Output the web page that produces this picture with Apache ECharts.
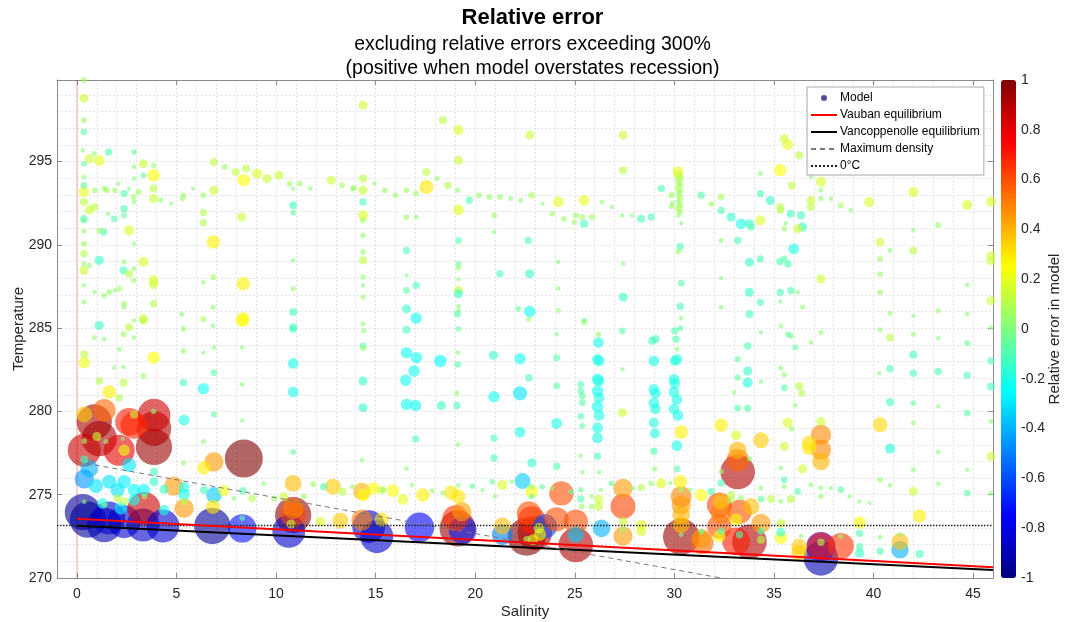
<!DOCTYPE html>
<html>
<head>
<meta charset="utf-8">
<title>Relative error</title>
<script src="https://cdn.jsdelivr.net/npm/echarts@6/dist/echarts.min.js"></script>
<style>
  html, body { margin: 0; padding: 0; background: #ffffff; }
  #chart { width: 1065px; height: 622px; }
</style>
</head>
<body>
<div id="chart"></div>
<script>
// Model samples: salinity, temperature (K) and relative error of the model
const salinity = [
  // low salinity, warm water
  0.35,0.35,0.35,0.35,0.3,0.35,0.35,0.35,0.35,0.35, 0.35,0.35,0.35,0.35,0.35,0.35,0.35,0.35,0.35,0.62,
  0.87,1.12,0.9,0.87,0.62,0.62,1.59,1.37,1.5,1.9, 2.07,2.37,2.62,2.84,2.87,3.1,2.87,2.87,2.87,3.34,
  3.34,3.85,3.85,3.85,3.85,4.21,4.74,5.3,5.35,5.83, 6.35,6.88,6.88,7.43,7.97,8.38,8.5,9.05,9.55,10.14,
  10.69,10.86,11.19,11.72,12.78,13.31,13.86,10.86,10.86,10.86, 10.86,10.86,10.86,6.35,6.35,6.85,8.27,8.35,8.35,1.87,
  2.37,2.37,1.57,1.34,1.12,2.62,2.87,3.34,2.37,2.34, 2.62,2.84,2.87,3.85,3.85,1.12,0.9,1.37,1.62,1.9,
  2.12,2.37,2.37,3.85,3.34,3.34,2.87,2.62,1.12,5.35,
  // low salinity, intermediate temperature
  6.35,6.85,6.35,6.83,6.83,5.26,0.87,1.37,2.34,2.87, 0.37,0.37,2.12,1.87,2.34,3.85,1.12,1.62,2.12,2.34,
  3.34,5.35,5.35,6.35,6.35,6.88,6.88,6.88,8.3,8.3, 8.3,8.3,6.35,5.35,10.86,10.86,10.86,10.86,2.87,3.85,
  0.37,1.45,2.3,1.0,0.37,
  // low salinity, near freezing
  0.37,1.37,0.87,1.12,0.37,2.12,2.62,2.87,3.87,3.87, 3.87,8.38,2.37,5.38,6.88,6.38,2.62,0.62,0.37,0.95,
  1.62,2.04,2.37,2.87,3.37,3.87,3.87,4.37,4.87,5.38, 5.38,5.38,6.38,6.88,7.38,6.83,8.33,8.8,7.88,9.38,
  9.89,10.39,10.86,11.39,11.86,12.39,12.86,13.34,13.84,14.39, 14.31,14.89,15.3,14.31,1.29,2.2,2.87,4.37,0.37,1.37,
  2.04,2.37,5.38,3.4,0.3,0.55,1.37,1.6,2.37,3.32, 3.37,4.32,6.8,8.3,8.3,10.64,10.86,10.86,10.86,10.75,
  14.65,15.06,14.31,13.23,12.22,15.3,
  // salinity 14-20
  14.37,14.37,14.37,14.37,14.37,14.37,14.37,14.37,14.37,14.37, 14.37,14.37,14.37,13.9,14.94,15.46,15.99,16.55,17.03,17.55,
  17.55,18.08,18.63,19.11,19.16,19.16,18.38,19.16,19.16,19.16, 19.16,19.16,19.16,19.16,19.16,19.16,19.11,19.16,16.55,17.03,
  16.55,16.55,16.55,17.03,16.55,17.03,16.55,14.4,14.37,14.37, 14.37,14.37,16.55,17.05,16.93,16.51,16.55,17.01,17.01,16.55,
  18.25,18.3,19.13,19.13,19.08,19.08,19.13,
  // salinity 20-31, warm water
  19.7,20.19,20.71,21.24,21.78,22.29,22.83,23.38,24.17,25.47, 26.37,26.87,27.38,27.88,28.34,28.84,22.74,27.43,27.43,23.88,
  24.45,24.97,25.05,25.37,25.47,25.87,20.95,20.95,21.24,22.66, 22.74,22.16,22.74,24.17,24.17,24.17,25.47,27.43,27.43,29.35,
  31.35,30.18,30.18,30.3,30.2,30.3,30.2,30.3,30.2,30.3, 30.2,30.3,30.2,30.3,30.2,29.85,29.9,29.85,30.35,30.3,
  30.2,30.35,30.3,30.35,30.3,
  // salinity 20-31, intermediate temperature
  20.92,20.94,20.94,20.94,22.25,22.25,22.25,22.7,22.7,22.84, 24.09,24.09,24.09,24.09,24.09,25.47,25.3,25.3,25.38,25.38,
  25.3,25.38,25.3,25.38,26.19,26.19,26.14,26.22,26.14,26.22, 26.14,26.22,26.14,26.22,26.14,26.14,26.14,26.22,27.39,27.39,
  27.39,28.89,29.05,28.97,28.97,29.05,28.97,29.05,28.97,29.02, 28.97,29.02,30.02,30.08,30.13,30.13,30.02,29.98,30.02,29.98,
  30.13,29.98,30.18,30.35,30.13,30.13,
  // salinity 15-32, near freezing
  15.4,15.87,16.37,16.82,17.37,17.85,18.37,18.79,19.16,19.16, 19.86,20.37,20.86,21.0,21.36,21.83,22.38,22.83,22.83,22.83,
  23.36,23.86,24.33,24.83,25.3,25.3,25.35,25.83,26.2,26.2, 25.85,26.3,26.84,27.42,27.42,27.42,27.42,27.42,27.9,28.34,
  28.34,28.34,28.84,29.34,29.8,30.3,30.34,30.34,30.34,30.34, 30.34,30.34,30.34,30.8,31.35,31.35,31.35,31.4,17.2,19.12,
  19.0,19.33,19.37,21.36,21.36,22.58,22.83,22.7,22.99,23.2, 23.25,22.6,22.9,23.5,24.08,25.05,25.05,25.05,26.34,
  // high salinity, cold water
  32.35,33.1,33.18,33.18,33.18,34.35,33.77,32.35,32.35,31.85, 32.33,32.26,32.35,32.26,32.35,32.26,32.85,32.85,33.35,33.27,
  33.85,33.1,33.27,33.77,33.1,34.35,34.35,34.35,34.35,34.35, 34.85,35.35,35.85,35.35,35.35,35.35,36.36,36.27,36.27,37.36,
  37.36,37.36,37.36,38.36,38.36,39.3,39.3,39.3,39.3,40.33, 40.33,41.33,41.33,41.33,42.31,42.31,35.69,35.9,35.52,36.44,
  36.77,36.77,37.36,37.36,37.36,37.36,35.35,35.52,35.52,36.2, 36.86,37.36,37.36,37.86,38.36,38.8,39.3,39.8,40.33,40.33,
  40.33,40.3,40.83,40.83,40.83,40.83,40.83,42.0,42.0,42.0, 42.0,42.0,42.0,42.0,43.25,43.25,43.25,43.25,43.25,44.7,
  44.7,44.7,44.7,44.7,44.7,44.7,44.7,45.9,45.9,45.9, 45.9,45.9,45.9,45.9,45.9,45.9,45.9,
  // high salinity, intermediate temperature
  35.35,35.7,35.85,34.35,33.68,36.07,36.86,37.36,33.18,33.68, 33.18,33.68,33.0,35.35,35.52,34.35,36.27,36.4,35.52,36.07,
  33.18,33.68,
  // high salinity, warm water
  35.52,35.69,36.27,35.32,35.9,36.86,34.32,37.36,37.36,37.36, 37.86,38.36,38.86,36.86,36.86,31.85,32.35,32.35,32.85,33.35,
  33.77,33.85,34.32,34.32,34.82,35.32,35.32,35.85,36.36,36.44, 36.2,35.6,35.52,39.78,42.0,43.25,42.0,40.33,40.83,42.0,
  40.33,40.33,40.33,40.83,43.25,42.0,32.35,33.18,33.77,34.32, 35.3,35.52,35.7,35.99,33.77,34.32,35.32,35.85,36.2,32.35,
  33.77,35.32,36.44,37.36,32.35
];

const temperature = [
  299.9,298.8,297.49,296.79,295.68,294.87,294.08,293.58,293.18,292.58, 291.57,291.47,290.83,290.07,289.47,288.87,288.47,287.57,286.57,295.17,
  295.47,295.07,293.28,292.28,292.08,288.77,295.57,293.38,293.28,293.28, 293.68,293.08,293.38,292.88,292.58,293.18,293.98,294.68,295.57,294.87,
  294.18,294.77,294.18,293.38,292.78,292.68,292.48,292.78,292.98,293.38, 292.98,293.28,294.97,294.68,294.38,293.88,294.58,294.28,293.98,294.18,
  293.68,293.38,293.68,293.38,293.88,293.58,293.38,292.38,291.94,289.07, 287.37,285.97,285.06,291.94,291.33,290.17,291.67,287.67,285.56,291.57,
  292.17,291.77,291.87,290.77,290.87,290.87,290.07,288.97,288.97,288.47, 288.27,287.87,288.57,287.87,287.61,289.07,287.17,286.97,287.17,287.27,
  287.37,286.47,286.27,286.47,285.56,285.46,285.46,285.06,285.16,284.96,

  287.75,288.05,285.54,286.25,285.15,285.84,284.44,284.34,284.64,284.44, 283.43,282.93,283.74,282.63,282.67,283.23,281.83,281.17,280.82,281.73,
  282.13,283.63,281.73,283.53,281.37,283.84,282.33,279.82,285.44,283.84, 281.63,279.45,278.2,276.9,284.94,282.89,281.17,277.57,279.82,280.0,
  278.22,278.2,278.35,278.5,277.11,

  279.82,280.07,279.37,278.37,277.67,277.67,279.37,279.17,279.77,278.97, 277.87,277.17,277.67,279.47,276.97,276.6,276.78,276.57,275.95,275.52,
  275.78,275.28,275.78,275.28,275.28,275.78,276.37,275.32,275.52,275.44, 275.02,274.18,275.28,274.98,275.24,274.27,275.24,274.78,274.78,275.68,
  274.78,274.88,275.68,274.88,275.64,275.48,275.48,275.18,275.48,274.98, 275.2,275.38,275.28,277.07,274.48,274.18,274.68,274.08,274.58,274.4,
  274.78,274.6,274.6,274.9,273.95,273.5,273.18,273.6,273.38,273.18, 274.18,273.12,273.12,272.98,273.6,272.8,273.78,274.18,273.8,273.24,
  273.08,272.48,273.48,273.44,273.38,273.5,

  298.39,293.98,293.28,292.58,291.77,291.47,290.57,289.57,289.07,288.07, 287.57,286.87,285.26,293.42,293.68,293.28,292.98,293.28,293.08,293.48,
  294.38,293.98,293.58,293.28,296.89,295.08,297.49,292.1,290.27,288.87, 288.63,287.93,287.27,287.07,286.32,286.06,285.86,284.96,291.67,291.67,
  289.67,288.17,287.27,287.57,286.16,285.6,284.9,284.84,283.94,283.78, 281.83,280.22,283.53,283.23,282.43,281.87,280.42,280.36,278.35,276.57,
  283.03,280.36,283.53,282.83,281.09,280.36,278.01,

  292.68,292.98,292.88,292.88,292.78,292.68,292.98,292.48,292.58,292.68, 292.58,292.28,291.77,291.77,291.57,291.67,296.59,296.59,294.48,291.87,
  291.57,291.37,291.77,291.67,291.27,291.67,291.77,290.77,288.27,290.27, 288.27,286.16,286.0,288.97,287.37,286.06,285.46,288.87,286.87,293.38,
  292.98,294.4,294.2,294.0,293.8,293.6,293.4,293.2,293.0,292.8, 292.6,292.4,292.2,292.0,291.8,293.0,292.5,292.3,291.3,289.9,
  289.6,287.7,286.3,285.6,285.0,

  283.37,280.88,278.41,277.21,283.17,281.09,278.76,285.54,282.03,276.91, 284.64,283.23,281.53,279.28,276.71,285.34,281.63,281.23,280.92,280.52,
  279.72,279.12,277.35,276.35,284.64,284.14,283.13,283.03,281.93,281.83, 281.23,280.82,280.28,279.76,279.02,278.41,277.31,276.35,284.84,282.53,
  279.92,284.24,284.34,283.03,281.33,281.09,280.52,280.16,279.32,278.68, 277.61,276.55,284.84,284.34,283.74,283.13,283.03,281.93,281.69,281.17,
  280.72,280.16,279.76,278.76,277.95,276.55,

  275.28,275.24,274.72,275.58,274.98,275.24,275.1,275.12,274.88,275.58, 275.52,275.28,275.78,274.9,275.58,275.78,275.82,275.18,275.5,274.9,
  275.48,275.4,275.08,275.18,275.3,274.75,274.3,274.9,274.72,274.3, 274.3,275.3,275.68,275.38,274.3,273.38,272.52,272.9,275.4,275.44,
  273.18,272.8,275.68,275.68,275.7,275.78,274.88,274.38,273.8,273.2, 272.48,272.6,275.3,275.3,274.98,272.78,272.38,272.1,273.04,272.98,
  273.58,273.98,272.88,273.12,272.6,272.48,273.48,273.88,272.7,273.0, 272.6,272.3,272.3,273.1,273.52,273.38,271.98,272.6,272.98,

  279.17,278.57,277.67,277.07,276.37,278.27,277.15,276.4,275.7,275.2, 274.6,274.38,273.9,273.08,272.8,272.5,275.0,274.7,274.8,273.98,
  274.28,273.5,272.6,272.18,272.2,273.28,272.8,272.3,275.4,274.74, 274.74,274.6,274.74,273.28,272.75,272.4,272.52,271.88,271.5,271.18,
  271.9,271.88,272.15,271.92,272.5,272.68,271.88,271.5,273.32,272.44, 271.6,272.18,271.7,272.62,273.72,271.44,279.32,278.96,277.9,276.55,
  278.1,277.8,278.6,279.4,277.7,277.0,276.6,275.9,275.5,275.2, 275.6,275.4,274.9,275.4,275.3,274.9,274.6,274.5,279.2,275.9,
  284.9,282.3,284.44,282.57,280.56,277.77,275.56,284.64,283.4,282.3, 280.5,279.3,276.5,275.2,284.4,282.4,280.3,277.57,275.66,284.1,
  282.17,279.9,276.5,275.1,292.4,287.6,285.84,292.6,289.35,289.05, 286.65,285.04,283.03,281.5,279.4,277.3,275.1,

  285.15,284.64,284.54,284.74,283.93,283.84,284.14,284.74,283.13,282.43, 282.03,281.73,281.13,282.6,282.2,281.8,281.53,281.1,281.43,280.36,
  280.2,280.2,

  296.39,296.02,295.38,294.48,293.57,294.08,294.28,293.78,293.28,292.78, 292.78,292.37,292.07,292.67,292.27,292.47,292.87,292.07,291.67,291.27,
  291.27,291.07,291.47,293.07,292.67,292.27,292.07,291.87,291.77,291.07, 290.97,291.3,290.97,292.57,293.17,291.2,290.9,290.16,289.66,289.66,
  289.16,288.25,287.15,285.9,286.04,285.74,290.26,290.26,288.96,289.16, 289.0,289.16,288.86,289.76,287.15,286.55,287.15,287.25,287.15,286.25,
  285.84,286.6,286.25,287.95,288.0
];

const relativeError = [
  0.05,0.15,0.05,-0.08,0.02,-0.05,0.03,-0.08,0.2,0.12, -0.1,-0.05,0.03,0.06,0.1,0.03,0.15,0.02,0.03,0.15,
  0.03,0.2,0.05,0.12,0.15,0.03,-0.1,0.05,0.06,0.05, 0.01,-0.1,0.01,0.05,0.02,0.06,0.02,0.02,-0.05,0.15,
  -0.05,0.04,0.25,0.12,0.15,0.03,0.01,0.05,0.05,0.01, 0.06,0.15,0.12,0.05,0.12,0.25,0.12,0.18,0.15,0.15,
  0.06,0.01,0.05,0.02,0.15,0.06,0.04,-0.12,-0.05,0.01, 0.03,-0.12,-0.12,0.1,0.1,0.28,0.15,0.28,0.27,-0.08,
  -0.1,-0.05,0.01,-0.1,0.05,0.18,0.01,0.18,0.03,-0.12, 0.12,0.04,0.02,0.18,0.15,-0.15,0.02,0.04,0.05,0.01,
  0.06,0.05,0.03,0.1,0.15,0.12,0.01,0.12,-0.15,0.05,

  0.02,0.06,0.06,0.03,0.01,0.03,0.03,0.02,0.06,0.02, 0.12,0.22,0.03,0.01,0.01,0.25,0.1,0.28,0.1,0.12,
  0.05,0.04,-0.1,0.01,-0.22,0.02,-0.08,-0.06,0.25,0.02, 0.02,0.01,0.03,0.03,-0.1,-0.2,-0.2,-0.05,0.12,0.04,
  0.05,0.03,0.01,0.15,-0.12,

  0.35,0.55,0.92,0.92,0.85,0.8,0.7,0.68,0.85,0.9, 0.95,1.0,0.22,-0.2,0.45,0.28,-0.3,-0.4,-0.45,-0.3,
  -0.3,-0.3,-0.28,-0.25,-0.25,-0.15,-0.12,-0.15,0.45,-0.2, -0.22,0.45,-0.12,-0.35,0.22,0.3,-0.1,0.1,0.02,0.02,
  0.05,0.15,0.38,0.05,0.05,-0.1,0.35,0.12,0.03,0.25, 0.4,0.25,0.12,0.02,-0.2,-0.25,-0.22,-0.2,0.02,0.03,
  0.12,0.12,0.1,0.05,-0.95,-0.95,-0.9,-0.85,-0.85,-0.85, 0.85,-0.85,-0.95,-0.72,-0.05,-0.85,0.95,0.5,0.62,0.15,
  -0.85,-0.85,0.5,0.35,0.18,0.3,

  0.15,0.12,0.15,-0.1,0.18,0.06,0.04,0.05,0.12,0.04, 0.01,0.03,0.03,0.05,0.01,0.05,0.05,0.05,0.06,0.3,
  0.12,0.04,0.1,0.03,0.18,0.15,0.12,0.2,-0.08,-0.05, 0.05,0.01,0.15,-0.15,0.02,0.02,-0.1,-0.05,0.05,0.03,
  -0.1,0.01,-0.08,-0.1,-0.15,-0.22,-0.12,0.03,-0.08,0.05, -0.15,-0.15,-0.22,-0.22,-0.22,-0.22,-0.22,-0.22,-0.1,0.02,
  -0.25,-0.15,0.02,-0.08,0.04,-0.1,0.02,

  -0.1,0.05,0.05,0.05,0.03,0.03,0.08,0.01,0.2,0.2, 0.02,0.01,0.01,0.01,-0.12,-0.1,0.15,0.15,0.12,0.05,
  0.05,0.05,0.06,0.06,-0.12,0.06,0.05,0.01,-0.1,-0.1, -0.15,-0.05,-0.22,0.01,0.02,0.03,-0.05,0.01,-0.15,-0.1,
  -0.1,0.2,0.15,0.1,0.08,0.05,0.1,0.06,0.05,0.08, 0.04,0.06,0.1,0.05,0.03,0.06,0.03,0.04,0.01,-0.1,
  0.05,-0.08,-0.1,0.02,-0.06,

  -0.15,-0.22,-0.1,-0.1,-0.22,-0.3,-0.2,0.04,-0.1,-0.15, 0.01,-0.08,-0.08,-0.2,-0.1,0.05,-0.08,-0.08,-0.08,-0.08,
  -0.08,-0.06,0.01,0.01,0.04,-0.2,-0.2,-0.2,-0.22,-0.2, -0.22,-0.2,-0.22,-0.2,-0.2,-0.2,-0.1,0.01,-0.08,0.01,
  0.15,-0.12,-0.12,-0.2,-0.2,-0.2,-0.2,-0.2,-0.18,-0.18, -0.1,0.03,-0.1,-0.1,0.02,-0.2,-0.18,-0.2,-0.2,-0.2,
  -0.2,-0.2,-0.2,0.28,-0.2,-0.08,

  0.05,0.25,0.2,0.02,0.28,0.03,0.03,0.3,0.3,0.02, -0.05,0.0,-0.05,0.02,0.18,0.02,-0.35,0.25,0.05,-0.05,
  -0.05,0.02,0.6,-0.05,-0.05,-0.1,0.05,0.02,0.15,0.15, 0.05,0.01,-0.05,0.45,0.62,0.15,0.45,0.05,0.02,0.1,
  0.2,0.18,0.05,0.18,0.02,0.28,0.5,0.45,0.4,0.38, 0.95,0.02,0.05,0.02,0.25,-0.05,0.45,0.55,-0.75,0.95,
  0.65,0.45,-0.7,0.38,-0.5,1.0,0.7,0.6,0.9,0.2, 0.25,0.1,0.2,-0.6,0.6,0.6,0.9,-0.35,-0.4,

  0.28,0.18,0.4,0.55,0.9,0.35,0.04,0.04,-0.1,-0.1, 0.35,0.62,0.5,0.6,-0.1,0.25,0.12,0.1,0.04,0.6,
  0.38,0.25,-0.1,0.9,0.7,0.45,-0.1,0.12,0.03,-0.08, 0.12,0.02,0.12,0.15,-0.15,0.25,0.02,0.35,0.35,-0.9,
  0.7,-0.75,0.1,0.65,0.04,-0.1,-0.1,-0.15,0.25,0.02, -0.1,0.38,-0.4,0.02,0.28,-0.12,0.18,0.05,0.15,0.15,
  0.32,0.3,0.48,0.15,0.48,0.4,0.02,-0.08,0.03,-0.08, 0.03,0.03,0.04,0.01,-0.08,0.01,0.0,0.0,0.32,0.05,
  0.03,0.01,0.12,-0.1,-0.12,-0.18,0.02,0.03,-0.12,-0.1, -0.05,0.03,0.03,0.15,0.01,-0.1,0.01,0.02,0.02,-0.05,
  -0.1,-0.08,0.02,-0.08,0.18,0.02,0.02,0.18,0.15,0.15, 0.15,0.02,-0.1,-0.12,0.02,0.15,0.02,

  0.02,-0.05,-0.05,0.01,-0.1,-0.06,0.02,0.03,-0.06,-0.15, -0.06,-0.18,0.02,0.03,0.04,0.01,0.12,0.1,-0.08,0.02,
  -0.08,-0.1,

  0.15,0.2,0.12,0.25,0.12,0.01,0.03,0.18,0.03,0.03, 0.02,0.05,0.02,0.15,0.12,0.05,0.08,-0.1,-0.15,-0.2,
  -0.15,-0.1,0.18,-0.1,-0.15,0.12,0.1,-0.12,-0.12,-0.15, 0.15,0.01,0.05,0.18,0.18,0.05,0.02,0.15,0.03,0.12,
  0.05,0.05,0.05,0.03,0.03,0.01,0.03,-0.1,-0.15,-0.1, -0.1,-0.08,-0.1,-0.2,-0.15,-0.1,-0.1,-0.1,0.02,0.02,
  -0.12,0.01,0.03,0.15,0.01
];

// Reference curves (end points along salinity)
const curveSalinity = [0, 46];
const vaubanTemperature = [273.55, 270.64];
const vancoppenolleTemperature = [273.13, 270.48];
const maxDensityTemperature = [276.98, 267.05];
const salinityRange = [-1, 46];
const temperatureRange = [270, 299.9];
const zeroCelsius = 273.15;
const freshwaterSalinity = 0;

// Tick labels
const salinityTicks = [0, 5, 10, 15, 20, 25, 30, 35, 40, 45];
const temperatureTicks = [270, 275, 280, 285, 290, 295];
const errorRange = [-1, 1];

// Jet colour map
const jet = ['#000080', '#0000ff', '#0080ff', '#00ffff', '#80ff80', '#ffff00', '#ff8000', '#ff0000', '#800000'];

const FONT = '"Liberation Sans", Arial, Helvetica, sans-serif';
const AXIS_COLOR = '#8a8a8a';
const LABEL_COLOR = '#262626';
const GRID_LINE = { lineStyle: { color: '#e4e4e4', width: 1, type: [2, 2] } };

// Large errors drawn first so the small markers stay visible on top
const points = salinity
  .map((s, i) => [s, temperature[i], relativeError[i]])
  .sort((a, b) => Math.abs(b[2]) - Math.abs(a[2]));

const chart = echarts.init(document.getElementById('chart'), null, { renderer: 'canvas' });

const tickAxisX = (position, showLabels) => ({
  gridIndex: 0, type: 'value', position,
  min: salinityRange[0], max: salinityRange[1],
  axisLine: { show: position === 'top', onZero: false, lineStyle: { color: AXIS_COLOR, width: 1 } },
  axisTick: { show: true, inside: true, length: 5, customValues: salinityTicks, lineStyle: { color: AXIS_COLOR } },
  axisLabel: { show: showLabels, customValues: salinityTicks, color: LABEL_COLOR, fontSize: 14, fontFamily: FONT, margin: 9 },
  splitLine: { show: false }
});
const tickAxisY = (position, showLabels) => ({
  gridIndex: 0, type: 'value', position,
  min: temperatureRange[0], max: temperatureRange[1],
  axisLine: { show: position === 'right', onZero: false, lineStyle: { color: AXIS_COLOR, width: 1 } },
  axisTick: { show: true, inside: true, length: 5, customValues: temperatureTicks, lineStyle: { color: AXIS_COLOR } },
  axisLabel: { show: showLabels, customValues: temperatureTicks, color: LABEL_COLOR, fontSize: 14, fontFamily: FONT, margin: 5 },
  splitLine: { show: false }
});

const axisName = { fontSize: 15, color: LABEL_COLOR, fontFamily: FONT };

const option = {
  backgroundColor: '#ffffff',
  animation: false,
  textStyle: { fontFamily: FONT },
  title: {
    text: 'Relative error',
    subtext: 'excluding relative errors exceeding 300%\n(positive when model overstates recession)',
    left: 'center', top: 2, itemGap: 4,
    textStyle: { fontSize: 22, fontWeight: 'bold', color: '#000', fontFamily: FONT },
    subtextStyle: { fontSize: 19.5, color: '#000', lineHeight: 24, fontFamily: FONT }
  },
  grid: [
    { left: 57, top: 80, width: 936, height: 498, show: false, outerBoundsMode: 'none' },
    { left: 1001, top: 80, width: 15, height: 498, show: false, outerBoundsMode: 'none' }
  ],
  xAxis: [
    { // grid lines every unit of salinity
      gridIndex: 0, type: 'value', position: 'bottom',
      min: salinityRange[0], max: salinityRange[1], interval: 1,
      axisLine: { show: true, onZero: false, lineStyle: { color: AXIS_COLOR, width: 1 } },
      axisTick: { show: false }, axisLabel: { show: false },
      splitLine: GRID_LINE
    },
    Object.assign(tickAxisX('bottom', true), {
      name: 'Salinity', nameLocation: 'middle', nameGap: 26, nameMoveOverlap: false,
      nameTextStyle: axisName
    }),
    tickAxisX('top', false),
    { gridIndex: 1, type: 'value', min: 0, max: 1, show: false }
  ],
  yAxis: [
    { // grid lines every kelvin
      gridIndex: 0, type: 'value', position: 'left',
      min: temperatureRange[0], max: temperatureRange[1], interval: 1,
      axisLine: { show: true, onZero: false, lineStyle: { color: AXIS_COLOR, width: 1 } },
      axisTick: { show: false }, axisLabel: { show: false },
      splitLine: GRID_LINE
    },
    Object.assign(tickAxisY('left', true), {
      name: 'Temperature', nameLocation: 'middle', nameGap: 31, nameMoveOverlap: false,
      nameTextStyle: axisName
    }),
    tickAxisY('right', false),
    { // colour bar scale
      gridIndex: 1, type: 'value', position: 'right',
      min: errorRange[0], max: errorRange[1], interval: 0.2,
      axisLine: { show: false, onZero: false },
      axisTick: { show: false },
      splitLine: { show: false },
      axisLabel: {
        color: LABEL_COLOR, fontSize: 14, fontFamily: FONT, margin: 5,
        formatter: v => String(Math.round(v * 10) / 10)
      },
      name: 'Relative error in model', nameLocation: 'middle', nameGap: 31, nameRotate: 90,
      nameMoveOverlap: false,
      nameTextStyle: axisName
    }
  ],
  visualMap: {
    type: 'continuous',
    min: errorRange[0], max: errorRange[1],
    dimension: 2, seriesIndex: 0,
    inRange: { color: jet },
    calculable: false, hoverLink: false,
    orient: 'vertical',
    left: 1001, top: 80, padding: 0,
    itemWidth: 15, itemHeight: 498,
    text: null, showLabel: false
  },
  legend: {
    orient: 'vertical',
    left: 807, top: 87,
    padding: [5, 4, 3, 3],
    itemWidth: 26, itemHeight: 6, itemGap: 5,
    backgroundColor: '#ffffff',
    borderColor: '#a8a8a8', borderWidth: 1, borderRadius: 0,
    textStyle: { fontSize: 12, color: '#000', fontFamily: FONT, padding: [0, 0, 0, -2] },
    selectedMode: false,
    data: [
      { name: 'Model', icon: 'circle', itemStyle: { color: '#4d4da6', opacity: 1 } },
      { name: 'Vauban equilibrium', itemStyle: { opacity: 0 } },
      { name: 'Vancoppenolle equilibrium', itemStyle: { opacity: 0 } },
      { name: 'Maximum density', itemStyle: { opacity: 0 } },
      { name: '0°C', itemStyle: { opacity: 0 } }
    ]
  },
  series: [
    {
      name: 'Model', type: 'scatter',
      xAxisIndex: 0, yAxisIndex: 0,
      data: points,
      symbol: 'circle',
      symbolSize: v => 4 + 34 * Math.abs(v[2]),
      itemStyle: { opacity: 0.6 },
      emphasis: { disabled: true },
      z: 3
    },
    {
      name: 'Vauban equilibrium', type: 'line', xAxisIndex: 0, yAxisIndex: 0,
      data: curveSalinity.map((s, i) => [s, vaubanTemperature[i]]),
      symbol: 'none', lineStyle: { color: '#ff0000', width: 2 }, itemStyle: { color: '#ff0000' },
      z: 6, silent: true
    },
    {
      name: 'Vancoppenolle equilibrium', type: 'line', xAxisIndex: 0, yAxisIndex: 0,
      data: curveSalinity.map((s, i) => [s, vancoppenolleTemperature[i]]),
      symbol: 'none', lineStyle: { color: '#000000', width: 2 }, itemStyle: { color: '#000000' },
      z: 5, silent: true
    },
    {
      name: 'Maximum density', type: 'line', xAxisIndex: 0, yAxisIndex: 0,
      data: curveSalinity.map((s, i) => [s, maxDensityTemperature[i]]),
      symbol: 'none', lineStyle: { color: '#777777', width: 1, type: [5, 4] }, itemStyle: { color: '#777777' },
      z: 5, silent: true
    },
    {
      name: '0°C', type: 'line', xAxisIndex: 0, yAxisIndex: 0,
      data: salinityRange.map(s => [s, zeroCelsius]),
      symbol: 'none', lineStyle: { color: '#222222', width: 1.5, type: 'dotted' }, itemStyle: { color: '#222222' },
      z: 5, silent: true
    },
    {
      name: 'freshwater', type: 'line', xAxisIndex: 0, yAxisIndex: 0,
      data: temperatureRange.map(t => [freshwaterSalinity, t]),
      symbol: 'none', lineStyle: { color: 'rgba(255,0,0,0.18)', width: 2 },
      z: 1, silent: true
    }
  ]
};

chart.setOption(option);
</script>
</body>
</html>
